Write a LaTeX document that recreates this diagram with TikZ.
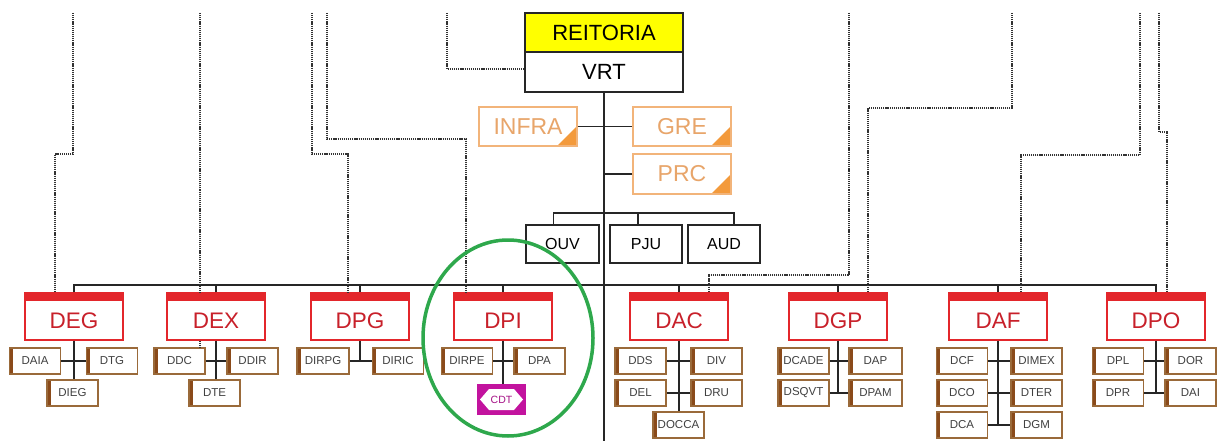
\documentclass[tikz,border=0pt]{standalone}
\usepackage{fontspec}
\setmainfont{Liberation Sans}
\usetikzlibrary{calc}
\definecolor{deptred}{HTML}{E3262B}
\definecolor{depttext}{HTML}{C8202A}
\definecolor{subbrown}{HTML}{9A6A3A}
\definecolor{barbrown}{HTML}{8A4A1A}
\definecolor{orgline}{HTML}{F2B47A}
\definecolor{orgtext}{HTML}{E8A56A}
\definecolor{orgfill}{HTML}{F39A3C}
\definecolor{reiyellow}{HTML}{FFFF00}
\definecolor{cdtmag}{HTML}{C2139E}
\definecolor{ringgreen}{HTML}{2EA84C}
\begin{document}
\begin{tikzpicture}[x=1pt,y=-1pt,
 conn/.style={line width=1.7pt, black!85},
 dots/.style={line width=1.6pt, black!80, dash pattern=on 1.2pt off 0.9pt},
 topbox/.style={draw=black!85, line width=1.5pt, minimum width=158pt, minimum height=39pt, inner sep=0pt, font=\fontsize{22}{22}\selectfont},
 unitbox/.style={draw=orgline, line width=1.3pt, fill=white, minimum width=98pt, minimum height=39pt, inner sep=0pt, text=orgtext, font=\fontsize{23}{23}\selectfont,
   path picture={\fill[orgfill] (path picture bounding box.south east) -- ++(-20pt,0pt) -- ++(20pt,20pt) -- cycle;}},
 staffbox/.style={draw=black!85, line width=1.3pt, fill=white, minimum width=73pt, minimum height=38pt, inner sep=0pt, font=\fontsize{16}{16}\selectfont},
 deptbox/.style={draw=deptred, line width=1.2pt, fill=white, minimum width=98pt, minimum height=47pt, inner sep=0pt, text=depttext, text height=23pt, text depth=0pt, font=\fontsize{22.5}{22.5}\selectfont,
   path picture={\fill[deptred] (path picture bounding box.north west) rectangle ([yshift=-8pt]path picture bounding box.north east);}},
 subbox/.style={draw=subbrown, line width=1.3pt, fill=white, minimum width=51pt, minimum height=26pt, inner sep=0pt, text=black!75, font=\fontsize{11.5}{11.5}\selectfont,
   path picture={\fill[barbrown] (path picture bounding box.north west) rectangle ([xshift=3.5pt]path picture bounding box.south west);}},
 cdtbox/.style={fill=cdtmag, minimum width=49pt, minimum height=31pt, inner sep=0pt, text=cdtmag!85!black, font=\fontsize{10.5}{10.5}\selectfont,
   path picture={\fill[white] ([xshift=3pt]path picture bounding box.west) -- ([shift={(12pt,-5pt)}]path picture bounding box.north west) -- ([shift={(-12pt,-5pt)}]path picture bounding box.north east) -- ([xshift=-3pt]path picture bounding box.east) -- ([shift={(-12pt,5pt)}]path picture bounding box.south east) -- ([shift={(12pt,5pt)}]path picture bounding box.south west) -- cycle;}},
]
\fill[white] (0,0) rectangle (1217,441);
\useasboundingbox (0,0) rectangle (1217,441);

% coordinates
\coordinate (bus) at (0,285);
\coordinate (sbar) at (0,213);
\coordinate (bottom) at (0,441);
\coordinate (t1) at (73,13);
\coordinate (t2) at (200,13);
\coordinate (t3) at (312,13);
\coordinate (t4) at (327,13);
\coordinate (t5) at (447,13);
\coordinate (t6) at (849,13);
\coordinate (t7) at (1012,13);
\coordinate (t8) at (1140,13);
\coordinate (t9) at (1159,13);

% top
\node[topbox, fill=reiyellow] (REI) at (604,32.5) {REITORIA};
\node[topbox, fill=white, minimum height=40pt] (VRT) at (604,72) {VRT};

\node[unitbox] (INFRA) at (528,126.5) {INFRA};
\node[unitbox] (GRE) at (682,126.5) {GRE};
\node[unitbox, minimum height=40pt] (PRC) at (682,174) {PRC};

\node[staffbox] (OUV) at (562.5,244) {OUV};
\node[staffbox, minimum width=72pt] (PJU) at (646,244) {PJU};
\node[staffbox, minimum width=72pt] (AUD) at (724,244) {AUD};

% departments
\node[deptbox] (DEG) at (74,316.5) {DEG};
\node[deptbox] (DEX) at (216,316.5) {DEX};
\node[deptbox] (DPG) at (360,316.5) {DPG};
\node[deptbox] (DPI) at (503,316.5) {DPI};
\node[deptbox] (DAC) at (679,316.5) {DAC};
\node[deptbox] (DGP) at (838,316.5) {DGP};
\node[deptbox] (DAF) at (998,316.5) {DAF};
\node[deptbox] (DPO) at (1156,316.5) {DPO};

% sub units
\node[subbox] (DAIA) at (35,361) {DAIA};
\node[subbox] (DTG) at (112,361) {DTG};
\node[subbox] (DIEG) at (72.5,393) {DIEG};

\node[subbox] (DDC) at (179.5,361) {DDC};
\node[subbox] (DDIR) at (252.5,361) {DDIR};
\node[subbox] (DTE) at (214.5,393) {DTE};

\node[subbox, minimum width=52pt] (DIRPG) at (323,361) {DIRPG};
\node[subbox] (DIRIC) at (398,361) {DIRIC};

\node[subbox] (DIRPE) at (467,361) {DIRPE};
\node[subbox] (DPA) at (539.5,361) {DPA};
\node[cdtbox] (CDT) at (501.5,399.5) {CDT};

\node[subbox] (DDS) at (640.5,361) {DDS};
\node[subbox] (DIV) at (716.5,361) {DIV};
\node[subbox] (DEL) at (640.5,393) {DEL};
\node[subbox] (DRU) at (716.5,393) {DRU};
\node[subbox] (DOCCA) at (678.5,425) {DOCCA};

\node[subbox] (DCADE) at (803.5,361) {DCADE};
\node[subbox, minimum width=53pt] (DAP) at (875.5,361) {DAP};
\node[subbox] (DSQVT) at (803.5,393) {DSQVT};
\node[subbox, minimum width=53pt] (DPAM) at (875.5,393) {DPAM};

\node[subbox] (DCF) at (962,361) {DCF};
\node[subbox] (DIMEX) at (1036.5,361) {DIMEX};
\node[subbox] (DCO) at (962,393) {DCO};
\node[subbox] (DTER) at (1036.5,393) {DTER};
\node[subbox] (DCA) at (962,425) {DCA};
\node[subbox] (DGM) at (1036.5,425) {DGM};

\node[subbox] (DPL) at (1118,361) {DPL};
\node[subbox] (DOR) at (1190.5,361) {DOR};
\node[subbox] (DPR) at (1118,393) {DPR};
\node[subbox] (DAI) at (1190.5,393) {DAI};

% solid connectors
\draw[conn] (VRT.south) -- (VRT.south |- bottom);
\draw[conn] (INFRA.east) -- (GRE.west);
\draw[conn] (PRC.west) -- (PRC.west -| VRT.south);
\draw[conn] ([xshift=-9pt]OUV.north) -- ([xshift=-9pt]OUV.north |- sbar) -- ([xshift=10pt]AUD.north |- sbar) -- ([xshift=10pt]AUD.north);
\draw[conn] ([xshift=-8pt]PJU.north) -- ([xshift=-8pt]PJU.north |- sbar);
\draw[conn] (DEG.north) -- (DEG.north |- bus) -- (DPO.north |- bus) -- (DPO.north);
\foreach \d in {DEX,DPG,DPI,DAC,DGP,DAF}{
  \draw[conn] (\d.north) -- (\d.north |- bus);
}
% department subtrees
\draw[conn] (DEG.south) -- (DEG.south |- DIEG.north);
\draw[conn] (DAIA.east) -- (DTG.west);
\draw[conn] (DEX.south) -- (DEX.south |- DTE.north);
\draw[conn] (DDC.east) -- (DDIR.west);
\draw[conn] (DPG.south) -- (DPG.south |- DIRPG.east);
\draw[conn] (DIRPG.east) -- (DIRIC.west);
\draw[conn] (DPI.south) -- (DPI.south |- CDT.north);
\draw[conn] (DIRPE.east) -- (DPA.west);
\draw[conn] (DAC.south) -- (DAC.south |- DOCCA.north);
\draw[conn] (DDS.east) -- (DIV.west);
\draw[conn] (DEL.east) -- (DRU.west);
\draw[conn] (DGP.south) -- (DGP.south |- DSQVT.east);
\draw[conn] (DCADE.east) -- (DAP.west);
\draw[conn] (DSQVT.east) -- (DPAM.west);
\draw[conn] (DAF.south) -- (DAF.south |- DCA.east);
\draw[conn] (DCF.east) -- (DIMEX.west);
\draw[conn] (DCO.east) -- (DTER.west);
\draw[conn] (DCA.east) -- (DGM.west);
\draw[conn] (DPO.south) -- (DPO.south |- DPR.east);
\draw[conn] (DPL.east) -- (DOR.west);
\draw[conn] (DPR.east) -- (DAI.west);

% dotted links
\draw[dots] (t1) -- (73,154) -- (55,154) -- ([xshift=-19pt]DEG.north);
\draw[dots] (t2) -- ([xshift=-16pt]DEX.north);
\draw[dots] ([xshift=-16pt]DEX.south) -- ([xshift=-16pt]DEX.south |- DDC.north);
\draw[dots] (t3) -- (312,154) -- (348,154) -- ([xshift=-12pt]DPG.north);
\draw[dots] (t4) -- (327,139) -- (466,139) -- ([xshift=-37pt]DPI.north);
\draw[dots] (t5) -- (447,69) -- ([yshift=3pt]VRT.west);
\draw[dots] (t6) -- (849,275) -- (709,275) -- ([xshift=30pt]DAC.north);
\draw[dots] (t7) -- (1012,108) -- (868,108) -- ([xshift=30pt]DGP.north);
\draw[dots] (t8) -- (1140,155) -- (1021,155) -- ([xshift=23pt]DAF.north);
\draw[dots] (t9) -- (1159,132) -- (1167,132) -- ([xshift=11pt]DPO.north);

% highlight ring
\draw[ringgreen, line width=3.5pt] (508,338) ellipse [x radius=85pt, y radius=98pt];
\end{tikzpicture}
\end{document}
